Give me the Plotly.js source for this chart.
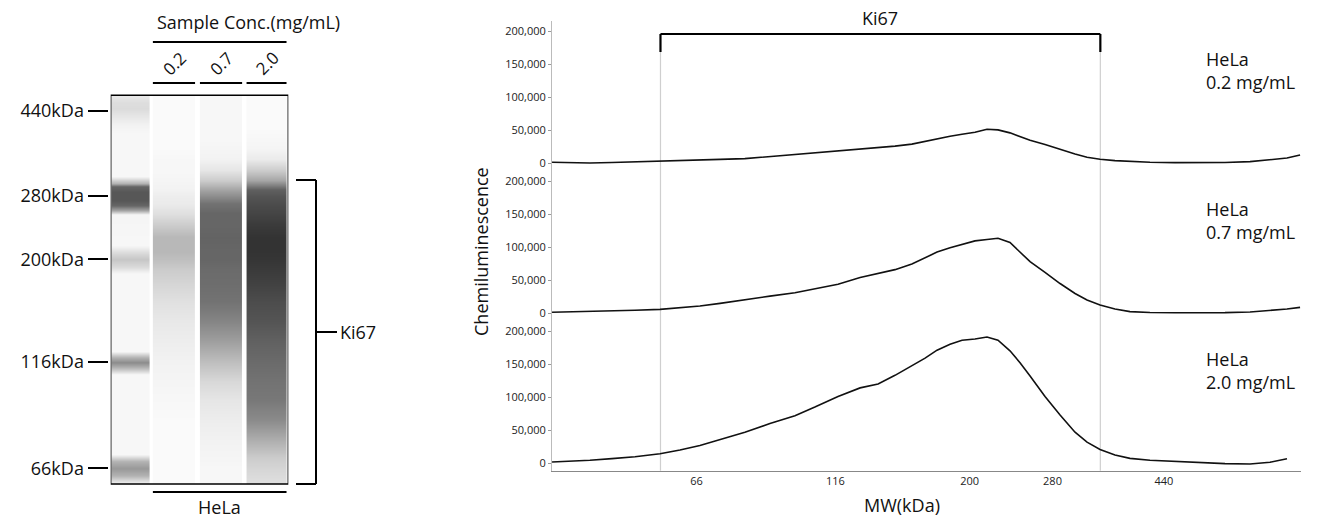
<!DOCTYPE html>
<html>
<head>
<meta charset="utf-8">
<script src="https://cdn.plot.ly/plotly-3.0.1.min.js"></script>
<style>
  body { margin: 0; background: #fff; }
  #plot { width: 1325px; height: 520px; }
</style>
</head>
<body>
<div id="plot"></div>
<script>
// electropherogram, sampled along the MW axis (kDa)
let mwPoints = [36.7, 39.5, 42.8, 46.8, 51.4, 56.9, 61.7, 66.9, 72.6, 80.3, 88.9, 98.4, 106.7, 117.2, 128.2,
  137.9, 147.7, 158.2, 166.9, 175.2, 184.7, 193.9, 204.4, 214.6, 224.4, 235.6, 245.4, 255.6, 271.6, 288.7,
  306.8, 322.1, 339.6, 360.8, 383.5, 415.9, 460.3, 509.5, 564.0, 624.4, 677.0, 725.4, 765.0];
let signal02 = [1500, 1000, 500, 1200, 2000, 3000, 3800, 5000, 6000, 7000, 10000, 13000, 15500, 19000, 21500,
  23500, 26000, 29000, 33500, 36500, 41000, 44000, 47000, 51500, 50500, 46000, 40500, 35000, 28500, 21000,
  14000, 9000, 6000, 4000, 2500, 1500, 1000, 800, 1200, 2500, 5000, 8000, 12500];
let signal07 = [1500, 2000, 2500, 3200, 4500, 6000, 8000, 11000, 15000, 21000, 26000, 31000, 37000, 44000, 54000,
  60500, 66000, 74500, 84000, 92500, 99000, 104500, 109500, 111500, 113500, 107000, 93000, 78000, 62000, 45000,
  30000, 20000, 12500, 6500, 2500, 1200, 800, 800, 1000, 2000, 4000, 6500, 9000];
let signal20 = [2000, 3000, 4500, 7000, 10000, 14500, 20000, 27000, 36000, 47000, 60000, 72000, 85000, 101000, 114000,
  120000, 133000, 147000, 159000, 171000, 180000, 186000, 188000, 191000, 186000, 170000, 152000, 132000, 101000, 73000,
  47000, 32000, 21000, 12500, 7500, 4500, 2500, 1000, -500, -1000, 1500, 7000, null];
let sampleLabels = ['HeLa<br>0.2 mg/mL', 'HeLa<br>0.7 mg/mL', 'HeLa<br>2.0 mg/mL'];
let concLabels = ['0.2', '0.7', '2.0'];
let mwTicks = [66, 116, 200, 280, 440];
let signalTicks = [0, 50000, 100000, 150000, 200000];
let ki67Range = [57, 340];

// virtual blot: darkness (0 white .. 1 black) down each lane
let gelMW = [478, 470, 440, 400, 380, 360, 340, 320, 305, 290, 280, 270, 255, 240, 225,
  210, 200, 190, 175, 160, 145, 130, 116, 105, 95, 85, 76, 70, 66, 62, 60.8];
let lane02 = [0.02, 0.02, 0.02, 0.02, 0.02, 0.02, 0.03, 0.03, 0.04, 0.05, 0.07, 0.08, 0.12, 0.2, 0.28,
  0.28, 0.25, 0.2, 0.16, 0.12, 0.09, 0.07, 0.05, 0.04, 0.03, 0.02, 0.02, 0.02, 0.02, 0.02, 0.02];
let lane07 = [0.03, 0.03, 0.03, 0.03, 0.03, 0.04, 0.05, 0.1, 0.2, 0.35, 0.45, 0.55, 0.6, 0.6, 0.61,
  0.6, 0.6, 0.58, 0.57, 0.55, 0.48, 0.38, 0.25, 0.15, 0.1, 0.07, 0.05, 0.04, 0.03, 0.03, 0.03];
let lane20 = [0.02, 0.02, 0.02, 0.02, 0.03, 0.04, 0.08, 0.2, 0.35, 0.62, 0.67, 0.7, 0.73, 0.77, 0.8,
  0.8, 0.79, 0.77, 0.74, 0.7, 0.67, 0.62, 0.58, 0.55, 0.53, 0.45, 0.3, 0.2, 0.16, 0.13, 0.12];
let ladderMW = [478, 460, 445, 430, 410, 390, 310, 300, 294, 286, 274, 266, 260, 254, 215,
  207, 200, 193, 186, 123, 119, 116, 113, 109, 71, 68.5, 66, 63.5, 61];
let ladderDark = [0.08, 0.13, 0.14, 0.1, 0.05, 0.03, 0.03, 0.3, 0.6, 0.66, 0.66, 0.6, 0.35, 0.04, 0.03,
  0.15, 0.22, 0.15, 0.03, 0.03, 0.3, 0.45, 0.3, 0.03, 0.03, 0.3, 0.4, 0.3, 0.05];

let W = 1325, H = 520;
let fontFamily = '"Open Sans", "Noto Sans", sans-serif';
let textColor = '#111';
let laneEdges = [[0.02, 0.87], [0.95, 1.9], [2.01, 2.96], [3.06, 3.96]];

// pixel helpers for paper positions
function px(x) { return x / W; }
function py(y) { return (H - y) / H; }

function laneTrace(lane, mw, dark) {
  let e = laneEdges[lane];
  return {
    type: 'heatmap',
    x: [e[0], (e[0] + e[1]) / 2, e[1]],
    y: mw,
    z: dark.map(d => [d, d]),
    zmin: 0,
    zmax: 1,
    colorscale: [[0, '#ffffff'], [1, '#000000']],
    zsmooth: 'best',
    showscale: false,
    hoverinfo: 'skip',
    xaxis: 'x4',
    yaxis: 'y4'
  };
}

let panelAxes = ['y', 'y2', 'y3'];
let signals = [signal02, signal07, signal20];

let data = [
  laneTrace(0, ladderMW, ladderDark),
  laneTrace(1, gelMW, lane02),
  laneTrace(2, gelMW, lane07),
  laneTrace(3, gelMW, lane20)
];

signals.forEach((s, i) => {
  data.push({
    type: 'scatter',
    mode: 'lines',
    x: mwPoints,
    y: s,
    xaxis: 'x',
    yaxis: panelAxes[i],
    line: { color: '#111', width: 1.6 },
    hoverinfo: 'skip'
  });
});

function panelAxis(domain) {
  return {
    domain: domain,
    anchor: 'x',
    range: [-11190, 215570],
    tickvals: signalTicks,
    tickformat: ',d',
    ticks: 'outside',
    ticklen: 3,
    tickcolor: '#999',
    showline: true,
    linecolor: '#bbb',
    linewidth: 1,
    showgrid: false,
    zeroline: false,
    tickfont: { size: 11, color: '#222' },
    fixedrange: true
  };
}

let shapes = [];

// gel frame
shapes.push({ type: 'rect', xref: 'x4', yref: 'y4 domain', x0: 0, x1: 4, y0: 0, y1: 1,
  line: { color: '#000', width: 1.5 } });

// sample concentration header lines
shapes.push({ type: 'line', xref: 'x4', yref: 'paper', x0: laneEdges[1][0], x1: laneEdges[3][1],
  y0: py(42), y1: py(42), line: { color: '#000', width: 2 } });
for (let i = 1; i < 4; i++) {
  shapes.push({ type: 'line', xref: 'x4', yref: 'paper', x0: laneEdges[i][0], x1: laneEdges[i][1],
    y0: py(83), y1: py(83), line: { color: '#000', width: 2 } });
}
shapes.push({ type: 'line', xref: 'x4', yref: 'paper', x0: laneEdges[1][0], x1: laneEdges[3][1],
  y0: py(492), y1: py(492), line: { color: '#000', width: 2 } });

// Ki67 bracket beside the gel
let bracketLine = { color: '#000', width: 2 };
shapes.push({ type: 'line', xref: 'paper', yref: 'paper', x0: px(296), x1: px(316), y0: py(180), y1: py(180), line: bracketLine });
shapes.push({ type: 'line', xref: 'paper', yref: 'paper', x0: px(316), x1: px(316), y0: py(180), y1: py(484), line: bracketLine });
shapes.push({ type: 'line', xref: 'paper', yref: 'paper', x0: px(296), x1: px(316), y0: py(484), y1: py(484), line: bracketLine });
shapes.push({ type: 'line', xref: 'paper', yref: 'paper', x0: px(316), x1: px(337), y0: py(332), y1: py(332), line: bracketLine });

// Ki67 window on the electropherogram
ki67Range.forEach(mw => {
  shapes.push({ type: 'line', xref: 'x', yref: 'paper', x0: mw, x1: mw, y0: py(470.7), y1: py(52),
    layer: 'below', line: { color: '#cfcfcf', width: 1.2 } });
  shapes.push({ type: 'line', xref: 'x', yref: 'paper', x0: mw, x1: mw, y0: py(52), y1: py(34),
    line: { color: '#000', width: 2.2 } });
});
shapes.push({ type: 'line', xref: 'x', yref: 'paper', x0: ki67Range[0], x1: ki67Range[1], y0: py(34), y1: py(34),
  line: { color: '#000', width: 2.2 } });

let bigFont = { family: fontFamily, size: 18, color: textColor };

function label(text, extra) {
  return Object.assign({ text: text, showarrow: false, xanchor: 'center', yanchor: 'middle', font: bigFont }, extra);
}

let annotations = [
  label('Sample Conc.(mg/mL)', { xref: 'paper', yref: 'paper', x: px(248), y: py(22) }),
  label('HeLa', { xref: 'x4', yref: 'paper', x: (laneEdges[1][0] + laneEdges[3][1]) / 2, y: py(507) }),
  label('Ki67', { xref: 'paper', yref: 'paper', x: px(338), y: py(332), xanchor: 'left' }),
  label('Ki67', { xref: 'x', yref: 'paper', x: Math.log10(Math.sqrt(ki67Range[0] * ki67Range[1])), y: py(18) }),
  label('Chemiluminescence', { xref: 'paper', yref: 'paper', x: px(481), y: py(252), textangle: -90 }),
  label('MW(kDa)', { xref: 'paper', yref: 'paper', x: px(902), y: py(505) })
];

concLabels.forEach((c, i) => {
  let e = laneEdges[i + 1];
  annotations.push(label(c, { xref: 'x4', yref: 'paper', x: (e[0] + e[1]) / 2, y: py(63), textangle: -45,
    font: { family: fontFamily, size: 17, color: textColor } }));
});

sampleLabels.forEach((s, i) => {
  annotations.push(label(s, { xref: 'paper', yref: panelAxes[i] + ' domain', x: px(1204), y: 0.67,
    xanchor: 'left', align: 'left' }));
});

let layout = {
  width: W,
  height: H,
  margin: { l: 0, r: 0, t: 0, b: 0 },
  paper_bgcolor: '#ffffff',
  plot_bgcolor: 'rgba(0,0,0,0)',
  showlegend: false,
  font: { family: fontFamily, color: textColor },
  xaxis: {
    type: 'log',
    domain: [px(552), px(1301)],
    anchor: 'y3',
    range: [1.5646, 2.8853],
    tickvals: mwTicks,
    ticktext: mwTicks.map(String),
    ticks: '',
    showline: true,
    linecolor: '#888',
    linewidth: 1.5,
    showgrid: false,
    zeroline: false,
    tickfont: { size: 11, color: '#222' },
    fixedrange: true
  },
  yaxis: panelAxis([py(170.7), py(20.7)]),
  yaxis2: panelAxis([py(320.7), py(170.7)]),
  yaxis3: panelAxis([py(470.7), py(320.7)]),
  xaxis4: {
    domain: [px(110.7), px(288.3)],
    anchor: 'y4',
    range: [0, 4],
    visible: false,
    fixedrange: true
  },
  yaxis4: {
    type: 'log',
    domain: [py(484), py(95.3)],
    anchor: 'free',
    position: px(107.5),
    range: [1.78364, 2.67906],
    tickvals: mwTicks,
    ticktext: mwTicks.map(m => m + 'kDa'),
    ticks: 'outside',
    ticklen: 20,
    tickwidth: 2,
    tickcolor: '#000',
    showline: false,
    showgrid: false,
    zeroline: false,
    tickfont: { family: fontFamily, size: 18, color: textColor },
    fixedrange: true
  },
  shapes: shapes,
  annotations: annotations
};

Plotly.newPlot('plot', data, layout, { staticPlot: true });
</script>
</body>
</html>
